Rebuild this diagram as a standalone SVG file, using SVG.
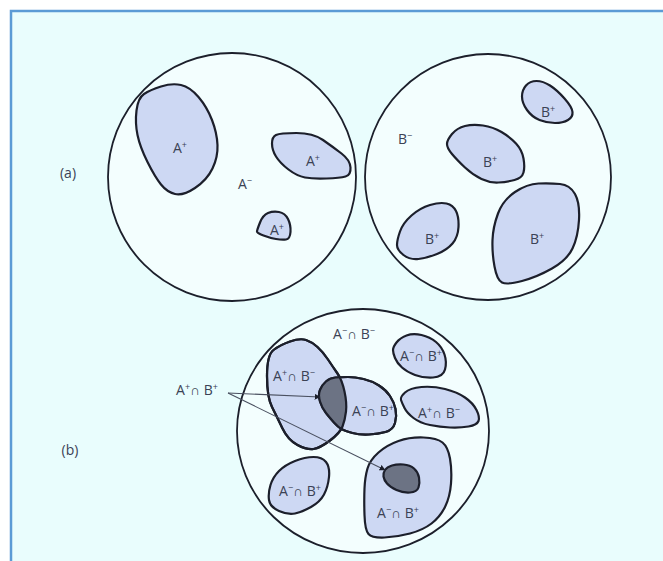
<svg xmlns="http://www.w3.org/2000/svg" width="663" height="561" viewBox="0 0 663 561">
<style>
.bg{fill:#e9fdfd;stroke:#5b9bd5;stroke-width:2.5}
.cf{fill:#f3fefe;stroke:none}
.co{fill:none;stroke:#1c1f2b;stroke-width:1.8}
.blob{fill:#cdd8f3;stroke:#1c1f2b;stroke-width:2.2;stroke-linejoin:round}
.dark{fill:#6c7384;stroke:#1c1f2b;stroke-width:2.2;stroke-linejoin:round}
.ol{fill:none;stroke:#1c1f2b;stroke-width:2.2;stroke-linejoin:round}
text{font-family:"Open Sans","Liberation Sans",sans-serif;font-size:14px;fill:#3b4255;text-anchor:middle}
.s{font-size:9px}
.ln{stroke:#4a5060;stroke-width:1.1;fill:none;marker-end:url(#ah)}
</style>
<defs>
<marker id="ah" viewBox="0 0 10 10" refX="9" refY="5" markerWidth="6" markerHeight="6" orient="auto" markerUnits="userSpaceOnUse">
<path d="M0,0 L10,5 L0,10 Z" fill="#1c1f2b"/>
</marker>
<path id="bigL" d="M273.5,350 Q280,345 290,341.5 Q300,338 306,340 Q312,342 317.5,347 Q323,352 328,359.5 Q333,367 337.5,373.5 Q342,380 344.5,391.5 Q347,403 346,411.5 Q345,420 342.5,426.5 Q340,433 330,440.5 Q320,448 313.5,449 Q307,450 297.5,445 Q288,440 282.5,428.5 Q277,417 272,407 Q267,397 267,376 Q267,355 273.5,350 Z"/>
<path id="mid" d="M326,381.5 Q330,378 335.5,377.5 Q341,377 348,377 Q355,377 363.5,379 Q372,381 379,385.5 Q386,390 390,396 Q394,402 395.5,409 Q397,416 395,423 Q393,430 385.5,432 Q378,434 369,434.5 Q360,435 352.5,433 Q345,431 341.5,429 Q338,427 334,422.5 Q330,418 326,413 Q322,408 320,401.5 Q318,395 320,390 Q322,385 326,381.5 Z"/>
<clipPath id="clipMid">
<path d="M326,381.5 Q330,378 335.5,377.5 Q341,377 348,377 Q355,377 363.5,379 Q372,381 379,385.5 Q386,390 390,396 Q394,402 395.5,409 Q397,416 395,423 Q393,430 385.5,432 Q378,434 369,434.5 Q360,435 352.5,433 Q345,431 341.5,429 Q338,427 334,422.5 Q330,418 326,413 Q322,408 320,401.5 Q318,395 320,390 Q322,385 326,381.5 Z"/>
</clipPath>
</defs>
<rect class="bg" x="11" y="11" width="700" height="600"/>
<text x="68" y="178">(a)</text>
<text x="70" y="455">(b)</text>

<g id="setA">
<circle class="cf" cx="232" cy="177" r="124"/>
<path class="blob" d="M144,94 Q150,90 161,86.5 Q172,83 181,85 Q190,87 198.5,97 Q207,107 212,120 Q217,133 217.5,145 Q218,157 212.5,168.5 Q207,180 195,188 Q183,196 175,194 Q167,192 161,184.5 Q155,177 147.5,162 Q140,147 137.5,135 Q135,123 136.5,110.5 Q138,98 144,94 Z"/>
<path class="blob" d="M276,135 Q280,133 296.5,133 Q313,133 323,140 Q333,147 341.5,153.5 Q350,160 350.5,167.5 Q351,175 345.5,176.5 Q340,178 326.5,178.5 Q313,179 305,177.5 Q297,176 288.5,169.5 Q280,163 276,156.5 Q272,150 272,143.5 Q272,137 276,135 Z"/>
<path class="blob" d="M260,222.5 Q263,215 268,213 Q273,211 279,212 Q285,213 288,219 Q291,225 290.5,232 Q290,239 286,239.5 Q282,240 276,239 Q270,238 263.5,235.5 Q257,233 257,231.5 Q257,230 260,222.5 Z"/>
<circle class="co" cx="232" cy="177" r="124"/>
<text x="180" y="153">A<tspan class="s" dy="-5">+</tspan></text>
<text x="313" y="166">A<tspan class="s" dy="-5">+</tspan></text>
<text x="245" y="189">A<tspan class="s" dy="-5">−</tspan></text>
<text x="277" y="235">A<tspan class="s" dy="-5">+</tspan></text>
</g>

<g id="setB">
<circle class="cf" cx="488" cy="177" r="123"/>
<path class="blob" d="M526,85.5 Q530,81 536.5,81 Q543,81 550,85.5 Q557,90 564.5,98.5 Q572,107 572.5,112 Q573,117 568,120 Q563,123 555,123 Q547,123 539.5,120 Q532,117 527,110 Q522,103 522,96.5 Q522,90 526,85.5 Z"/>
<path class="blob" d="M452,134 Q457,128 465,126 Q473,124 483,125.5 Q493,127 501.5,132 Q510,137 516,143.5 Q522,150 523.5,158.5 Q525,167 523.5,172.5 Q522,178 514.5,180 Q507,182 498.5,182.5 Q490,183 481.5,179 Q473,175 465,167.5 Q457,160 452,154 Q447,148 447,144 Q447,140 452,134 Z"/>
<path class="blob" d="M400,231.5 Q403,223 411.5,215.5 Q420,208 430,205 Q440,202 446.5,203.5 Q453,205 456,211 Q459,217 458.5,227 Q458,237 452.5,243.5 Q447,250 437,254 Q427,258 418.5,259 Q410,260 403.5,255 Q397,250 397,245 Q397,240 400,231.5 Z"/>
<path class="blob" d="M498,213.5 Q503,200 515,192 Q527,184 538.5,183.5 Q550,183 560,184 Q570,185 575,194 Q580,203 579,220 Q578,237 572.5,248.5 Q567,260 552,268.5 Q537,277 522,281 Q507,285 502,282.5 Q497,280 494.5,266.5 Q492,253 492.5,240 Q493,227 498,213.5 Z"/>
<circle class="co" cx="488" cy="177" r="123"/>
<text x="405" y="144">B<tspan class="s" dy="-5">−</tspan></text>
<text x="548" y="117">B<tspan class="s" dy="-5">+</tspan></text>
<text x="490" y="167">B<tspan class="s" dy="-5">+</tspan></text>
<text x="432" y="244">B<tspan class="s" dy="-5">+</tspan></text>
<text x="537" y="244">B<tspan class="s" dy="-5">+</tspan></text>
</g>

<g id="setAB">
<ellipse class="cf" cx="363" cy="431" rx="126" ry="122"/>
<text x="354" y="339">A<tspan class="s" dy="-5">−</tspan><tspan dy="5">∩ B</tspan><tspan class="s" dy="-5">−</tspan></text>
<path class="blob" d="M396.5,342.5 Q400,338 406.5,335.5 Q413,333 421.5,335 Q430,337 436,342 Q442,347 444.5,354.5 Q447,362 445,369.5 Q443,377 433,377.5 Q423,378 415,375 Q407,372 402,367.5 Q397,363 395,358 Q393,353 393,350 Q393,347 396.5,342.5 Z"/>
<text x="421" y="361">A<tspan class="s" dy="-5">−</tspan><tspan dy="5">∩ B</tspan><tspan class="s" dy="-5">+</tspan></text>
<use href="#bigL" class="blob"/>
<use href="#mid" class="blob"/>
<use href="#bigL" fill="#6c7384" stroke="none" clip-path="url(#clipMid)"/>
<use href="#mid" class="ol"/>
<use href="#bigL" class="ol"/>
<text x="294" y="381">A<tspan class="s" dy="-5">+</tspan><tspan dy="5">∩ B</tspan><tspan class="s" dy="-5">−</tspan></text>
<text x="373" y="416">A<tspan class="s" dy="-5">−</tspan><tspan dy="5">∩ B</tspan><tspan class="s" dy="-5">+</tspan></text>
<path class="blob" d="M405,392.5 Q410,388 421.5,387 Q433,386 445,389 Q457,392 465,397.5 Q473,403 476.5,410 Q480,417 478.5,421 Q477,425 468.5,426.5 Q460,428 450,427.5 Q440,427 430,425 Q420,423 413.5,418 Q407,413 404.5,408 Q402,403 401,400 Q400,397 405,392.5 Z"/>
<text x="439" y="418">A<tspan class="s" dy="-5">+</tspan><tspan dy="5">∩ B</tspan><tspan class="s" dy="-5">−</tspan></text>
<path class="blob" d="M270.5,485 Q273,477 279,471 Q285,465 295,461 Q305,457 313.5,457 Q322,457 326,462 Q330,467 329,477 Q328,487 324,494.5 Q320,502 311,507 Q302,512 295,513.5 Q288,515 279,511 Q270,507 269,500 Q268,493 270.5,485 Z"/>
<text x="300" y="496">A<tspan class="s" dy="-5">−</tspan><tspan dy="5">∩ B</tspan><tspan class="s" dy="-5">+</tspan></text>
<path class="blob" d="M364.5,488.5 Q365,477 367.5,468.5 Q370,460 378.5,452.5 Q387,445 398.5,441 Q410,437 423.5,437.5 Q437,438 442.5,442.5 Q448,447 450,458.5 Q452,470 451,483.5 Q450,497 445,507 Q440,517 431.5,523.5 Q423,530 410,533.5 Q397,537 384.5,537.5 Q372,538 368.5,534 Q365,530 364.5,515 Q364,500 364.5,488.5 Z"/>
<path class="dark" d="M383.5,476.5 Q383,473 385,470 Q387,467 392,465.5 Q397,464 403.5,464.5 Q410,465 414,468.5 Q418,472 419,477.5 Q420,483 418.5,487.5 Q417,492 410,492.5 Q403,493 396.5,490 Q390,487 387,483.5 Q384,480 383.5,476.5 Z"/>
<text x="398" y="518">A<tspan class="s" dy="-5">−</tspan><tspan dy="5">∩ B</tspan><tspan class="s" dy="-5">+</tspan></text>
<ellipse class="co" cx="363" cy="431" rx="126" ry="122"/>
</g>

<g id="label-ApBp">
<text x="197" y="395">A<tspan class="s" dy="-5">+</tspan><tspan dy="5">∩ B</tspan><tspan class="s" dy="-5">+</tspan></text>
</g>

<g id="connectors">
<line class="ln" x1="228" y1="393" x2="320" y2="397"/>
<line class="ln" x1="228" y1="393" x2="385" y2="470"/>
</g>
</svg>
